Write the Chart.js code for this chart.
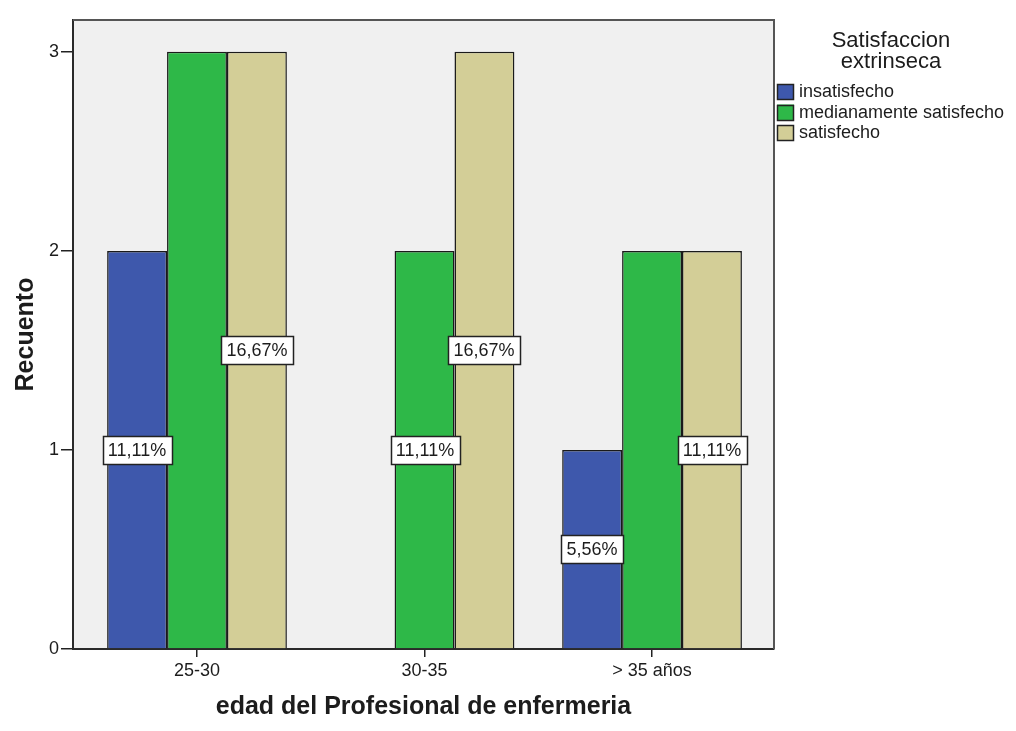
<!DOCTYPE html>
<html>
<head>
<meta charset="utf-8">
<script src="https://cdn.jsdelivr.net/npm/chart.js@4.4.0/dist/chart.umd.min.js"></script>
<style>
  body { margin: 0; background: #fff; }
</style>
</head>
<body>
<canvas id="edadChart" width="1016" height="731"></canvas>
<script>
var ageGroups = ['25-30', '30-35', '> 35 años'];
var insatisfecho = [2, 0, 1];
var medianamente = [3, 2, 2];
var satisfecho = [3, 3, 2];
var yTicks = [0, 1, 2, 3];

// which bars get a percentage box
var labelInsat = [true, false, true];
var labelMedian = [false, true, false];
var labelSatis = [true, true, true];

var total = [insatisfecho, medianamente, satisfecho].reduce(function(sum, arr) {
  return sum + arr.reduce(function(a, b) { return a + b; }, 0);
}, 0);

var FONT = '"Liberation Sans", Arial, sans-serif';
var INK = '#1c1c1c';

function toPoints(vals) {
  return vals.map(function(v, i) { return { x: i, y: v }; });
}

function pctText(v) {
  return (v / total * 100).toFixed(2).replace('.', ',') + '%';
}

var plotFrame = {
  id: 'plotFrame',
  beforeDraw: function(chart) {
    var a = chart.chartArea, ctx = chart.ctx;
    ctx.save();
    ctx.fillStyle = '#f0f0f0';
    ctx.fillRect(a.left, a.top, a.right - a.left, a.bottom - a.top);
    ctx.restore();
  },
  beforeDatasetsDraw: function(chart) {
    var a = chart.chartArea, ctx = chart.ctx;
    ctx.save();
    ctx.strokeStyle = '#555';
    ctx.lineWidth = 2;
    ctx.beginPath();
    ctx.moveTo(a.left, a.top);
    ctx.lineTo(a.right, a.top);
    ctx.lineTo(a.right, a.bottom);
    ctx.stroke();
    ctx.restore();
  }
};

var barLabels = {
  id: 'barLabels',
  afterDatasetsDraw: function(chart) {
    var ctx = chart.ctx;
    ctx.save();
    ctx.font = '18px ' + FONT;
    ctx.textAlign = 'center';
    ctx.textBaseline = 'middle';
    chart.data.datasets.forEach(function(ds, i) {
      var meta = chart.getDatasetMeta(i);
      meta.data.forEach(function(bar, j) {
        if (!ds.showLabel[j]) return;
        var txt = pctText(ds.data[j].y);
        var w = Math.round(ctx.measureText(txt).width + 11);
        var h = 28;
        var cx = Math.round(bar.x);
        var cy = Math.round((bar.y + bar.base) / 2);
        var x0 = Math.round(cx - w / 2);
        ctx.fillStyle = '#fff';
        ctx.fillRect(x0, cy - h / 2, w, h);
        ctx.strokeStyle = '#222';
        ctx.lineWidth = 1.5;
        ctx.strokeRect(x0 + 0.5, cy - h / 2 + 0.5, w, h);
        ctx.fillStyle = INK;
        ctx.fillText(txt, cx, cy + 1);
      });
    });
    ctx.restore();
  }
};

var sideLegend = {
  id: 'sideLegend',
  afterDraw: function(chart) {
    var ctx = chart.ctx;
    ctx.save();
    ctx.fillStyle = INK;
    ctx.textAlign = 'center';
    ctx.textBaseline = 'middle';
    ctx.font = '22px ' + FONT;
    ctx.fillText('Satisfaccion', 891, 41);
    ctx.fillText('extrinseca', 891, 62);
    ctx.textAlign = 'left';
    ctx.font = '18px ' + FONT;
    chart.data.datasets.forEach(function(ds, k) {
      var y = 84 + k * 20.5;
      ctx.fillStyle = ds.backgroundColor;
      ctx.fillRect(777, y, 17, 16);
      ctx.strokeStyle = '#222';
      ctx.lineWidth = 1.5;
      ctx.strokeRect(777.5, Math.round(y) + 0.5, 16, 15);
      ctx.fillStyle = INK;
      ctx.fillText(ds.label, 799, y + 8.5);
    });
    ctx.restore();
  }
};

var ctx = document.getElementById('edadChart').getContext('2d');
var edadChart = new Chart(ctx, {
  type: 'bar',
  data: {
    datasets: [{
      label: 'insatisfecho',
      data: toPoints(insatisfecho),
      showLabel: labelInsat,
      backgroundColor: '#3e58ac',
      borderColor: '#1a1a1a',
      borderWidth: 1.5
    }, {
      label: 'medianamente satisfecho',
      data: toPoints(medianamente),
      showLabel: labelMedian,
      backgroundColor: '#2eb848',
      borderColor: '#1a1a1a',
      borderWidth: 1.5
    }, {
      label: 'satisfecho',
      data: toPoints(satisfecho),
      showLabel: labelSatis,
      backgroundColor: '#d3ce97',
      borderColor: '#1a1a1a',
      borderWidth: 1.5
    }]
  },
  options: {
    responsive: false,
    animation: false,
    layout: { padding: { top: 20, right: 242, left: 0, bottom: 0 } },
    datasets: { bar: { categoryPercentage: 0.79, barPercentage: 1 } },
    plugins: {
      legend: { display: false },
      tooltip: { enabled: false }
    },
    scales: {
      x: {
        type: 'linear',
        offset: false,
        min: -0.545,
        max: 2.536,
        afterBuildTicks: function(scale) {
          scale.ticks = ageGroups.map(function(c, i) { return { value: i }; });
        },
        afterFit: function(scale) { scale.height = 82; },
        ticks: {
          callback: function(v) { return ageGroups[v]; },
          font: { family: FONT, size: 18 },
          color: INK,
          padding: 3,
          maxRotation: 0
        },
        grid: { offset: false, drawOnChartArea: false, tickLength: 8, color: '#222', lineWidth: 1.5 },
        border: { color: '#2a2a2a', width: 2 },
        title: {
          display: true,
          text: 'edad del Profesional de enfermeria',
          font: { family: FONT, size: 25, weight: 'bold' },
          color: INK,
          padding: { top: 0, bottom: 9 }
        }
      },
      y: {
        min: 0,
        max: 3.16,
        afterBuildTicks: function(scale) {
          scale.ticks = yTicks.map(function(v) { return { value: v }; });
        },
        afterFit: function(scale) { scale.width = 73; },
        ticks: {
          font: { family: FONT, size: 18 },
          color: INK,
          padding: 2
        },
        grid: { drawOnChartArea: false, tickLength: 12, color: '#222', lineWidth: 1.5 },
        border: { color: '#2a2a2a', width: 2 },
        title: {
          display: true,
          text: 'Recuento',
          font: { family: FONT, size: 25, weight: 'bold' },
          color: INK,
          padding: { top: 11, bottom: 0 }
        }
      }
    }
  },
  plugins: [plotFrame, barLabels, sideLegend]
});
</script>
</body>
</html>
